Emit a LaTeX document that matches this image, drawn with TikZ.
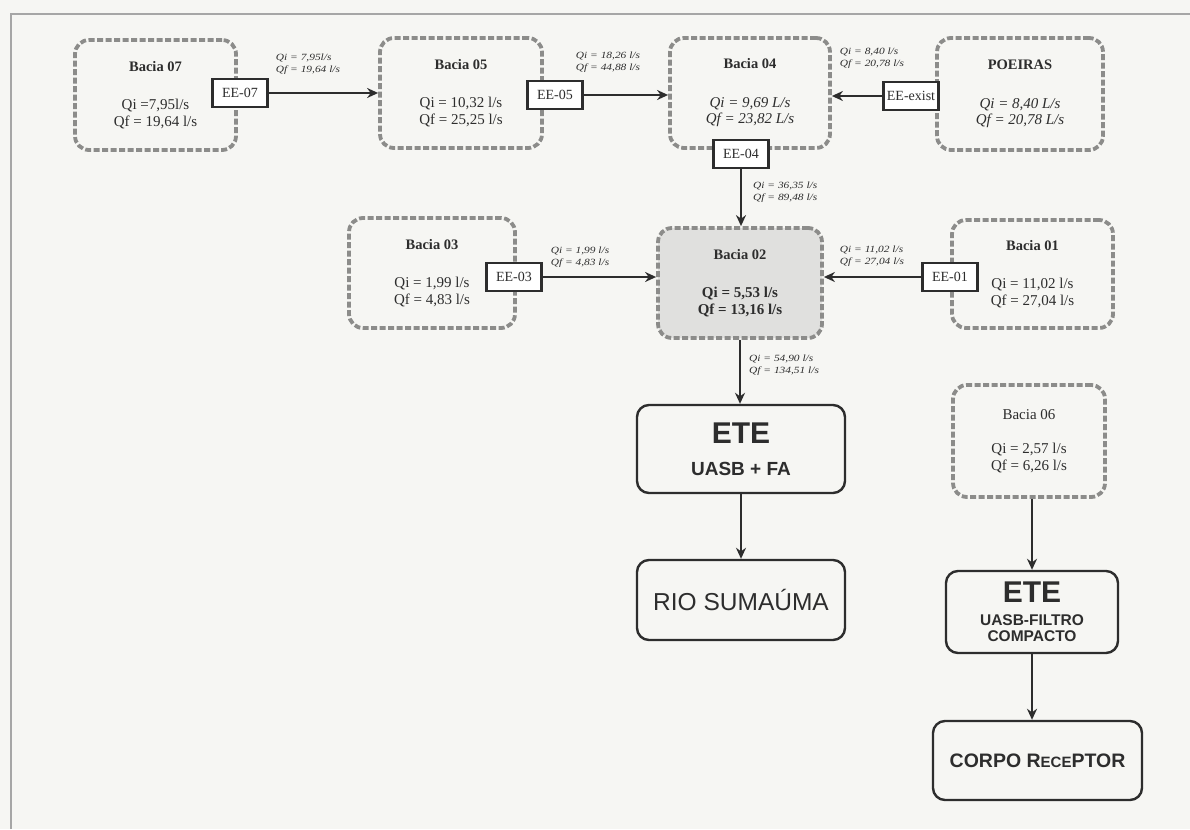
\documentclass[tikz,border=0pt]{standalone}
\usepackage{fontspec}
\setmainfont{Liberation Serif}
\setsansfont{Liberation Sans}
\newfontfamily\lblfont[FakeStretch=1.2]{Liberation Serif}
\usetikzlibrary{arrows.meta}
\definecolor{bg}{RGB}{246,246,243}
\definecolor{dashc}{RGB}{140,140,138}
\definecolor{ink}{RGB}{45,45,45}
\definecolor{fillb}{RGB}{224,224,222}
\tikzset{
  bacia/.style={draw=dashc, line width=3.8pt, dash pattern=on 6pt off 2.5pt,
    rounded corners=14pt, align=center, text=ink, inner sep=0pt,
    font=\fontsize{15}{16.5}\selectfont},
  ee/.style={draw=ink, line width=2.2pt, fill=white, minimum width=55pt,
    minimum height=28pt, inner sep=0pt, text=ink, font=\fontsize{14}{14}\selectfont},
  ete/.style={draw=ink, line width=2.4pt, rounded corners=12pt, align=center,
    text=ink, font=\sffamily\bfseries},
  arr/.style={draw=ink, line width=2pt, -{Stealth[length=11pt,width=10pt]}},
  lbl/.style={align=left, text=ink, inner sep=0pt,
    font=\lblfont\itshape\fontsize{9.5}{12}\selectfont},
  framel/.style={draw=gray!70, line width=1.5pt},
}
\newcommand{\bt}[1]{{\fontsize{14.5}{16}\selectfont\bfseries #1}}
\begin{document}
\begin{tikzpicture}[x=1pt,y=-1pt]
\useasboundingbox (0,0) rectangle (1190,829);
\fill[bg] (0,0) rectangle (1190,829);
\draw[framel] (11,829) -- (11,14) -- (1190,14);

% basins
\node[bacia, minimum width=161pt, minimum height=110pt] (b07) at (155.5,95)
  {\bt{Bacia 07}\\[22pt]Qi =7,95l/s\\Qf = 19,64 l/s};
\node[bacia, minimum width=162pt, minimum height=110pt] (b05) at (461,93)
  {\bt{Bacia 05}\\[22pt]Qi = 10,32 l/s\\Qf = 25,25 l/s};
\node[bacia, minimum width=160pt, minimum height=110pt] (b04) at (750,93)
  {\bt{Bacia 04}\\[22pt]\textit{Qi = 9,69 L/s}\\\textit{Qf = 23,82 L/s}};
\node[bacia, minimum width=166pt, minimum height=112pt] (poe) at (1020,94)
  {\bt{POEIRAS}\\[22pt]\textit{Qi = 8,40 L/s}\\\textit{Qf = 20,78 L/s}};
\node[bacia, minimum width=166pt, minimum height=110pt] (b03) at (432,273)
  {\bt{Bacia 03}\\[22pt]Qi = 1,99 l/s\\Qf = 4,83 l/s};
\node[bacia, fill=fillb, minimum width=164pt, minimum height=110pt] (b02) at (740,283)
  {\bt{Bacia 02}\\[22pt]\textbf{Qi = 5,53 l/s}\\\textbf{Qf = 13,16 l/s}};
\node[bacia, minimum width=161pt, minimum height=108pt] (b01) at (1032.5,274)
  {\bt{Bacia 01}\\[22pt]Qi = 11,02 l/s\\Qf = 27,04 l/s};
\node[bacia, minimum width=152pt, minimum height=112pt] (b06) at (1029,441)
  {Bacia 06\\[18pt]Qi = 2,57 l/s\\Qf = 6,26 l/s};

% pumping stations
\node[ee] (ee07) at (240,93) {EE-07};
\node[ee] (ee05) at (555,95) {EE-05};
\node[ee] (eeex) at (911,96) {EE-exist};
\node[ee] (ee04) at (741,154) {EE-04};
\node[ee] (ee03) at (514,277) {EE-03};
\node[ee] (ee01) at (950,277) {EE-01};

% treatment and receivers
\node[ete, minimum width=208pt, minimum height=88pt, font=\sffamily\bfseries\fontsize{19}{32}\selectfont] (ete1) at (741,449)
  {{\fontsize{30}{30}\selectfont ETE}\\{UASB + FA}};
\node[ete, minimum width=208pt, minimum height=80pt, font=\sffamily\fontsize{24.5}{26}\selectfont] (rio) at (741,600)
  {RIO SUMAÚMA};
\node[ete, minimum width=172pt, minimum height=82pt, font=\sffamily\bfseries\fontsize{12}{23}\selectfont] (ete2) at (1032,612)
  {{\fontsize{30}{30}\selectfont ETE}\\{\fontsize{15.5}{16}\selectfont UASB-FILTRO}\\[-7pt]{\fontsize{15.5}{16}\selectfont COMPACTO}};
\node[ete, minimum width=209pt, minimum height=79pt, font=\sffamily\bfseries\fontsize{19.5}{20}\selectfont] (corpo) at (1037.5,760.5)
  {CORPO R{\fontsize{15}{15}\selectfont ECE}PTOR};

% connectors
\draw[arr] (ee07.east) -- (ee07.east -| b05.west);
\draw[arr] (ee05.east) -- (ee05.east -| b04.west);
\draw[arr] (eeex.west) -- (eeex.west -| b04.east);
\draw[arr] (ee04.south) -- (ee04.south |- b02.north);
\draw[arr] (ee03.east) -- (ee03.east -| b02.west);
\draw[arr] (ee01.west) -- (ee01.west -| b02.east);
\draw[arr] (b02.south) -- (b02.south |- ete1.north);
\draw[arr] (ete1.south) -- (rio.north);
\draw[arr] (ete2.north |- b06.south) -- (ete2.north);
\draw[arr] (ete2.south) -- (ete2.south |- corpo.north);

% flow labels
\node[lbl] (l07) at (308,64) {Qi = 7,95l/s\\Qf = 19,64 l/s};
\node[lbl] (l05) at (608,62) {Qi = 18,26 l/s\\Qf = 44,88 l/s};
\node[lbl] (lex) at (872,58) {Qi = 8,40 l/s\\Qf = 20,78 l/s};
\node[lbl, anchor=west] (l04) at (753,192) {Qi = 36,35 l/s\\Qf = 89,48 l/s};
\node[lbl] (l03) at (580,257) {Qi = 1,99 l/s\\Qf = 4,83 l/s};
\node[lbl] (l01) at (872,256) {Qi = 11,02 l/s\\Qf = 27,04 l/s};
\node[lbl, anchor=west] (l02) at (749,365) {Qi = 54,90 l/s\\Qf = 134,51 l/s};
\end{tikzpicture}
\end{document}
